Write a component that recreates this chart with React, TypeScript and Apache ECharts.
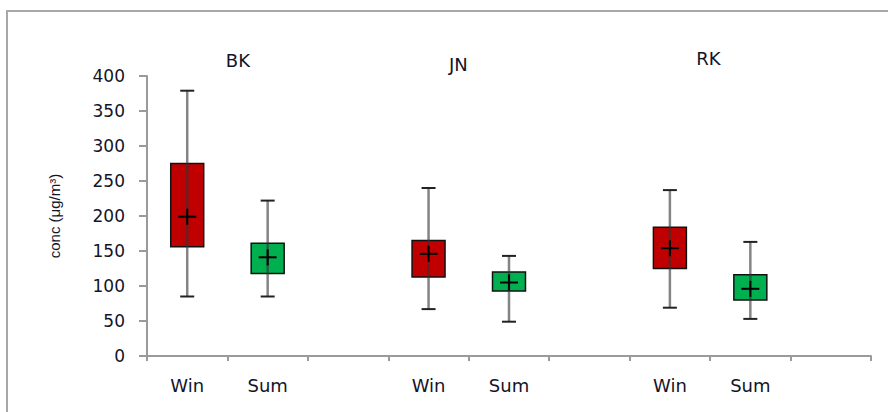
import React, { useEffect, useRef } from "react";
import * as echarts from "echarts";

const categories = ["Win", "Sum", "", "Win", "Sum", "", "Win", "Sum", ""];
const sites = ["BK", "JN", "RK"];
// [categoryIndex, min, q1, q3, max, mean]
const winStats = [
  [0, 85, 156, 275, 379, 199],
  [3, 67, 113, 165, 240, 146],
  [6, 69, 125, 184, 237, 154],
];
const sumStats = [
  [1, 85, 118, 161, 222, 141],
  [4, 49, 93, 120, 143, 105],
  [7, 53, 80, 116, 163, 96],
];
const yTicks = [0, 50, 100, 150, 200, 250, 300, 350, 400];

const WIN_COLOR = "#C00000";
const SUM_COLOR = "#00B050";

// layout of site titles (in category-band units from the plot's left edge, and pixel y)
const titleBandX = [1.13, 3.87, 6.98];
const titleY = [60, 64, 58];

function makeRender(color: string) {
  return (params: any, api: any) => {
    const x = api.value(0);
    const pMin = api.coord([x, api.value(1)]);
    const pQ1 = api.coord([x, api.value(2)]);
    const pQ3 = api.coord([x, api.value(3)]);
    const pMax = api.coord([x, api.value(4)]);
    const pMean = api.coord([x, api.value(5)]);
    const bandW = api.size([1, 0])[0];
    const boxW = bandW * 0.41;
    const capW = 14;
    const cx = pMin[0];
    return {
      type: "group",
      children: [
        {
          type: "rect",
          shape: { x: cx - boxW / 2, y: pQ3[1], width: boxW, height: pQ1[1] - pQ3[1] },
          style: { fill: color, stroke: "#111", lineWidth: 1.5 },
        },
        {
          type: "line",
          shape: { x1: cx, y1: pMax[1], x2: cx, y2: pMin[1] },
          style: { stroke: "rgba(50,50,50,0.6)", lineWidth: 2.5 },
        },
        {
          type: "line",
          shape: { x1: cx - capW / 2, y1: pMax[1], x2: cx + capW / 2, y2: pMax[1] },
          style: { stroke: "#222", lineWidth: 2 },
        },
        {
          type: "line",
          shape: { x1: cx - capW / 2, y1: pMin[1], x2: cx + capW / 2, y2: pMin[1] },
          style: { stroke: "#222", lineWidth: 2 },
        },
        {
          type: "line",
          shape: { x1: cx - 9, y1: pMean[1], x2: cx + 9, y2: pMean[1] },
          style: { stroke: "#000", lineWidth: 2 },
        },
        {
          type: "line",
          shape: { x1: cx, y1: pMean[1] - 8, x2: cx, y2: pMean[1] + 8 },
          style: { stroke: "#000", lineWidth: 2 },
        },
      ],
    };
  };
}

export default function App() {
  const ref = useRef<HTMLDivElement>(null);
  useEffect(() => {
    if (!ref.current) return;
    const chart = echarts.init(ref.current, null, { renderer: "svg" });
    const gridLeft = 147;
    const gridWidth = 724;
    const band = gridWidth / categories.length;
    chart.setOption({
      animation: false,
      backgroundColor: "#fff",
      grid: { left: gridLeft, top: 76, width: gridWidth, height: 280, containLabel: false },
      xAxis: {
        type: "category",
        data: categories,
        boundaryGap: true,
        axisLine: { lineStyle: { color: "#9a9a9a", width: 2 } },
        axisTick: { show: true, length: 5, lineStyle: { color: "#9a9a9a", width: 2 } },
        axisLabel: {
          interval: 0,
          margin: 20,
          color: "#141428",
          fontSize: 18,
          fontFamily: "DejaVu Sans",
        },
        splitLine: { show: false },
      },
      yAxis: {
        type: "value",
        min: 0,
        max: 400,
        interval: 50,
        name: "conc (μg/m³)",
        nameLocation: "middle",
        nameGap: 85,
        nameTextStyle: { fontSize: 15, fontFamily: "Liberation Sans", color: "#141428" },
        axisLine: { show: true, lineStyle: { color: "#9a9a9a", width: 2 } },
        axisTick: { show: true, length: 8, lineStyle: { color: "#9a9a9a", width: 2 } },
        axisLabel: {
          margin: 22,
          color: "#141428",
          fontSize: 17,
          fontFamily: "DejaVu Sans",
          formatter: (v: number) => (yTicks.includes(v) ? String(v) : ""),
        },
        splitLine: { show: false },
      },
      graphic: [
        {
          type: "rect",
          shape: { x: 7, y: 11, width: 900, height: 420 },
          style: { fill: "none", stroke: "#a8a8a8", lineWidth: 2 },
          silent: true,
        },
        ...sites.map((s, i) => ({
          type: "text",
          x: gridLeft + band * titleBandX[i],
          y: titleY[i],
          style: {
            text: s,
            fontSize: 18,
            fontFamily: "DejaVu Sans",
            fill: "#141428",
            align: "center",
            verticalAlign: "middle",
          },
        })),
      ],
      series: [
        {
          type: "custom",
          name: "Win",
          renderItem: makeRender(WIN_COLOR),
          encode: { x: 0, y: [1, 2, 3, 4, 5] },
          data: winStats,
        },
        {
          type: "custom",
          name: "Sum",
          renderItem: makeRender(SUM_COLOR),
          encode: { x: 0, y: [1, 2, 3, 4, 5] },
          data: sumStats,
        },
      ],
    });
    return () => chart.dispose();
  }, []);
  return (
    <div
      ref={ref}
      style={{ position: "fixed", left: 0, top: 0, width: 888, height: 412, background: "#fff" }}
    />
  );
}
